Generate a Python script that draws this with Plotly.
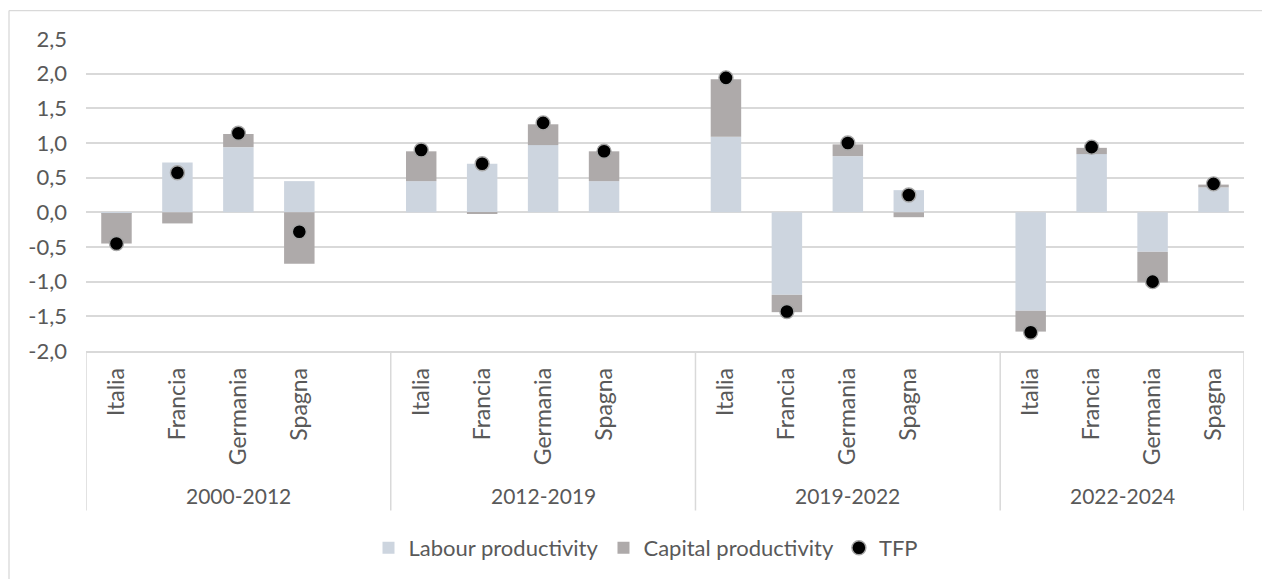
import plotly.graph_objects as go

periods = ["2000-2012", "2012-2019", "2019-2022", "2022-2024"]
countries = ["Italia", "Francia", "Germania", "Spagna"]

labour = [-0.01, 0.72, 0.94, 0.45,
          0.45, 0.70, 0.97, 0.45,
          1.09, -1.19, 0.81, 0.32,
          -1.42, 0.84, -0.57, 0.36]
capital = [-0.44, -0.16, 0.19, -0.74,
           0.43, -0.01, 0.30, 0.43,
           0.83, -0.25, 0.17, -0.07,
           -0.30, 0.09, -0.44, 0.04]
tfp = [-0.45, 0.57, 1.14, -0.28,
       0.90, 0.70, 1.29, 0.88,
       1.94, -1.43, 1.00, 0.25,
       -1.73, 0.94, -1.00, 0.41]

y_ticks = [-2.0, -1.5, -1.0, -0.5, 0.0, 0.5, 1.0, 1.5, 2.0, 2.5]
y_ticktext = [f"{v:.1f}".replace(".", ",") for v in y_ticks]

SLOT = 5  # 4 countries + one empty slot per period
xpos, xlab = [], []
for g, p in enumerate(periods):
    for c, name in enumerate(countries):
        xpos.append(g * SLOT + c)
        xlab.append(name)
xmax = xpos[-1] + 0.5
xmin = -0.5

FONT = "Lato"
TXT = "#595959"
GRID = "#D9D9D9"

fig = go.Figure()
fig.add_trace(go.Bar(x=xpos, y=labour, name="Labour productivity",
                     marker=dict(color="#CDD5DF", line=dict(width=0)), width=0.5))
fig.add_trace(go.Bar(x=xpos, y=capital, name="Capital productivity",
                     marker=dict(color="#AEAAAA", line=dict(width=0)), width=0.5))
fig.add_trace(go.Scatter(x=xpos, y=tfp, name="TFP", mode="markers",
                         marker=dict(color="black", size=14,
                                     line=dict(color="#A6A6A6", width=1.4))))

W, H = 1262, 579
ml, mr, mt, mb = 86, 18, 39, 227
pw, ph = W - ml - mr, H - mt - mb

def px_x(px):
    return (px - ml) / pw

def px_y(py):
    return (H - mb - py) / ph

shapes = []
bounds = [xmin] + [g * SLOT - 0.5 for g in range(1, len(periods))] + [xmax]
for b in bounds:
    shapes.append(dict(type="line", xref="x", yref="paper", x0=b, x1=b,
                       y0=0, y1=px_y(512), line=dict(color=GRID, width=1.5)))
shapes.append(dict(type="line", xref="paper", yref="paper",
                   x0=px_x(9), x1=px_x(1265), y0=px_y(10.5), y1=px_y(10.5),
                   line=dict(color=GRID, width=1.3)))
shapes.append(dict(type="line", xref="paper", yref="paper",
                   x0=px_x(9), x1=px_x(9), y0=px_y(10.5), y1=px_y(585),
                   line=dict(color=GRID, width=1.3)))

annotations = []
for g, p in enumerate(periods):
    lo = bounds[g]
    hi = bounds[g + 1]
    annotations.append(dict(x=(lo + hi) / 2, xref="x", y=px_y(497), yref="paper",
                            text=p, showarrow=False, yanchor="middle", xanchor="center",
                            font=dict(family=FONT, size=21, color=TXT)))

fig.update_layout(
    width=W, height=H,
    margin=dict(l=ml, r=mr, t=mt, b=mb),
    paper_bgcolor="white", plot_bgcolor="white",
    barmode="relative",
    shapes=shapes, annotations=annotations,
    showlegend=True,
    legend=dict(orientation="h", x=px_x(646), xanchor="center",
                y=px_y(548), yanchor="middle", traceorder="normal",
                font=dict(family=FONT, size=22, color=TXT),
                itemwidth=30, bgcolor="rgba(0,0,0,0)"),
    hovermode=False,
)
fig.update_xaxes(range=[xmin, xmax], tickmode="array", tickvals=xpos, ticktext=xlab,
                 tickangle=-90, showgrid=False, zeroline=False,
                 showline=True, linecolor=GRID, linewidth=1.5,
                 ticks="", ticklabelstandoff=6,
                 tickfont=dict(family=FONT, size=23, color=TXT))
fig.update_yaxes(range=[-2, 2.5], tickmode="array", tickvals=y_ticks, ticktext=y_ticktext,
                 showgrid=True, gridcolor=GRID, gridwidth=1.5, zeroline=False,
                 showline=False, ticks="", ticklabelstandoff=18,
                 tickfont=dict(family=FONT, size=22, color=TXT))

fig.write_html("out.html")
